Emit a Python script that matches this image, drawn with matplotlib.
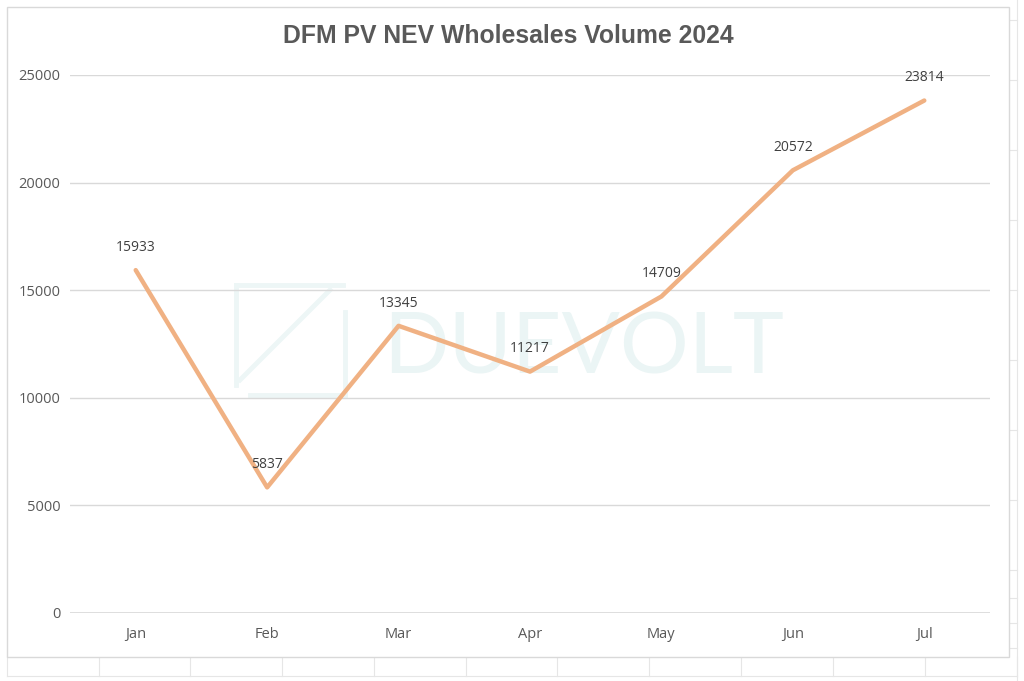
import matplotlib.pyplot as plt
from matplotlib.patches import Rectangle
from matplotlib.lines import Line2D

months = ["Jan", "Feb", "Mar", "Apr", "May", "Jun", "Jul"]
volume = [15933, 5837, 13345, 11217, 14709, 20572, 23814]
yticks = [0, 5000, 10000, 15000, 20000, 25000]

W, H = 1024, 681
fig = plt.figure(figsize=(W / 100, H / 100), dpi=100)

def px(x, y):
    # pixel coords (from top left) -> figure fraction
    return x / W, 1 - y / H

# spreadsheet cells behind the chart
for x in [7, 99, 190, 282, 374, 466, 557, 649, 741, 833, 925, 1017]:
    fig.add_artist(Line2D([x / W, x / W], [1 - 657 / H, 1 - 676 / H], color="#e6e6e6", lw=0.8, zorder=-3))
fig.add_artist(Line2D([7 / W, 1017 / W], [1 - 676 / H, 1 - 676 / H], color="#e6e6e6", lw=0.8, zorder=-3))
for y in [20, 80, 150, 220, 290, 360, 430, 500, 570, 598, 623, 648]:
    fig.add_artist(Line2D([1009 / W, 1017 / W], [1 - y / H, 1 - y / H], color="#e6e6e6", lw=0.8, zorder=-3))
fig.add_artist(Line2D([1017 / W, 1017 / W], [0, 1], color="#e6e6e6", lw=0.8, zorder=-3))

# chart frame
fig.add_artist(Rectangle(px(7, 657), (1009 - 7) / W, (657 - 7) / H, transform=fig.transFigure,
                         facecolor="white", edgecolor="#d9d9d9", lw=1.0, zorder=-2))

ax = fig.add_axes([70 / W, 1 - 613 / H, (990 - 70) / W, (613 - 75) / H])
ax.set_facecolor("none")

# watermark, behind the axes
wm = "#ebf5f5"
fig.text(*px(383, 350), "DUEVOLT", fontsize=62, color=wm, family="Lato",
         ha="left", va="center", zorder=-1)
for seg in [[(236, 285), (343, 285)], [(236, 285), (236, 385)], [(345, 312), (345, 395)],
            [(250, 395), (345, 395)], [(240, 380), (330, 290)]]:
    (x0, y0), (x1, y1) = seg
    fig.add_artist(Line2D([x0 / W, x1 / W], [1 - y0 / H, 1 - y1 / H], color="#edf6f6", lw=3.5, zorder=-1))

x = list(range(len(months)))
ax.plot(x, volume, color="#f0b183", lw=3.2, solid_capstyle="round", zorder=3)
for xi, v in zip(x, volume):
    ax.annotate(str(v), (xi, v), xytext=(0, 11), textcoords="offset points",
                ha="center", va="bottom", fontsize=10, color="#404040", family="Open Sans")

ax.set_xlim(-0.5, len(months) - 0.5)
ax.set_ylim(0, 25000)
ax.set_yticks(yticks)
ax.set_xticks(x)
ax.set_xticklabels(months)
ax.grid(axis="y", color="#d9d9d9", lw=1.0)
ax.axhline(0, color="#d9d9d9", lw=1.2, zorder=1)
ax.set_axisbelow(True)
for s in ax.spines.values():
    s.set_visible(False)
ax.tick_params(length=0, labelsize=10.5, labelcolor="#595959")
for lab in ax.get_xticklabels() + ax.get_yticklabels():
    lab.set_family("Open Sans")
ax.tick_params(axis="y", pad=7)
ax.tick_params(axis="x", pad=10)

fig.text(*px(508, 36), "DFM PV NEV Wholesales Volume 2024", fontsize=17.8, fontweight="bold",
         color="#595959", family="Liberation Sans", ha="center", va="center")

fig.savefig("out.png", dpi=100)
